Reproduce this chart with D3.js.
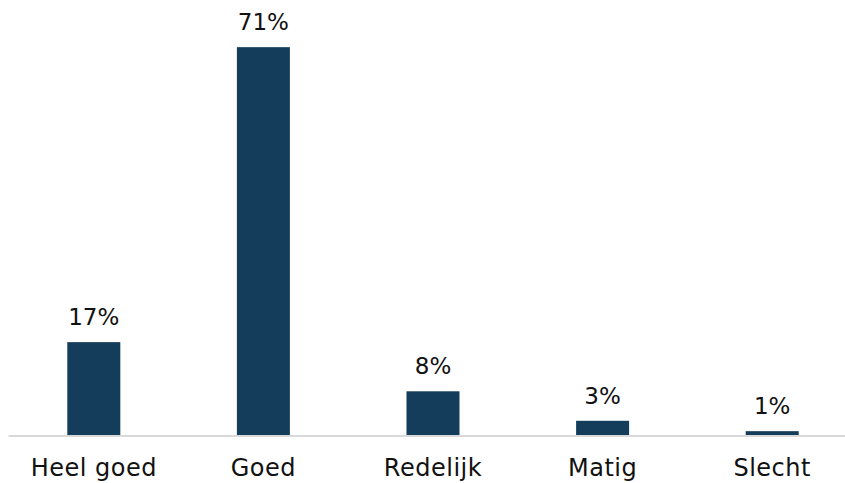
<!DOCTYPE html>
<html>
<head>
<meta charset="utf-8">
<script src="https://cdn.jsdelivr.net/npm/d3@7"></script>
<style>
  html, body { margin: 0; padding: 0; background: #ffffff; }
  svg { display: block; }
  text { font-family: "DejaVu Sans", Verdana, sans-serif; fill: #111; }
</style>
</head>
<body>
<script>
const categories = ["Heel goed", "Goed", "Redelijk", "Matig", "Slecht"];
const values = [17, 71, 8, 2.6, 0.7];
const valueLabels = ["17%", "71%", "8%", "3%", "1%"];

const W = 845, H = 483;
const baseY = 435;
const svg = d3.select("body").append("svg").attr("width", W).attr("height", H);

const x = d3.scaleBand()
  .domain(categories)
  .range([9, 857])
  .paddingInner(0.6875)
  .paddingOuter(0.34375);

const y = d3.scaleLinear().domain([0, 80]).range([baseY, -2]);

const data = categories.map((c, i) => ({ c, v: values[i], label: valueLabels[i] }));

svg.selectAll("rect.bar").data(data).enter().append("rect")
  .attr("class", "bar")
  .attr("x", d => x(d.c))
  .attr("width", x.bandwidth())
  .attr("y", d => y(d.v))
  .attr("height", d => baseY - y(d.v))
  .attr("fill", "#133d5a");

// axis baseline
svg.append("line")
  .attr("x1", 8.5).attr("x2", W)
  .attr("y1", baseY + 1).attr("y2", baseY + 1)
  .attr("stroke", "#d9d9d9").attr("stroke-width", 2);

svg.selectAll("text.val").data(data).enter().append("text")
  .attr("class", "val")
  .attr("x", d => x(d.c) + x.bandwidth() / 2)
  .attr("y", d => y(d.v) - 17)
  .attr("text-anchor", "middle")
  .style("font-size", "23px")
  .text(d => d.label);

svg.selectAll("text.cat").data(data).enter().append("text")
  .attr("class", "cat")
  .attr("x", d => x(d.c) + x.bandwidth() / 2)
  .attr("y", 476)
  .attr("text-anchor", "middle")
  .style("font-size", "24px")
  .style("letter-spacing", "0.5px")
  .text(d => d.c);
</script>
</body>
</html>
